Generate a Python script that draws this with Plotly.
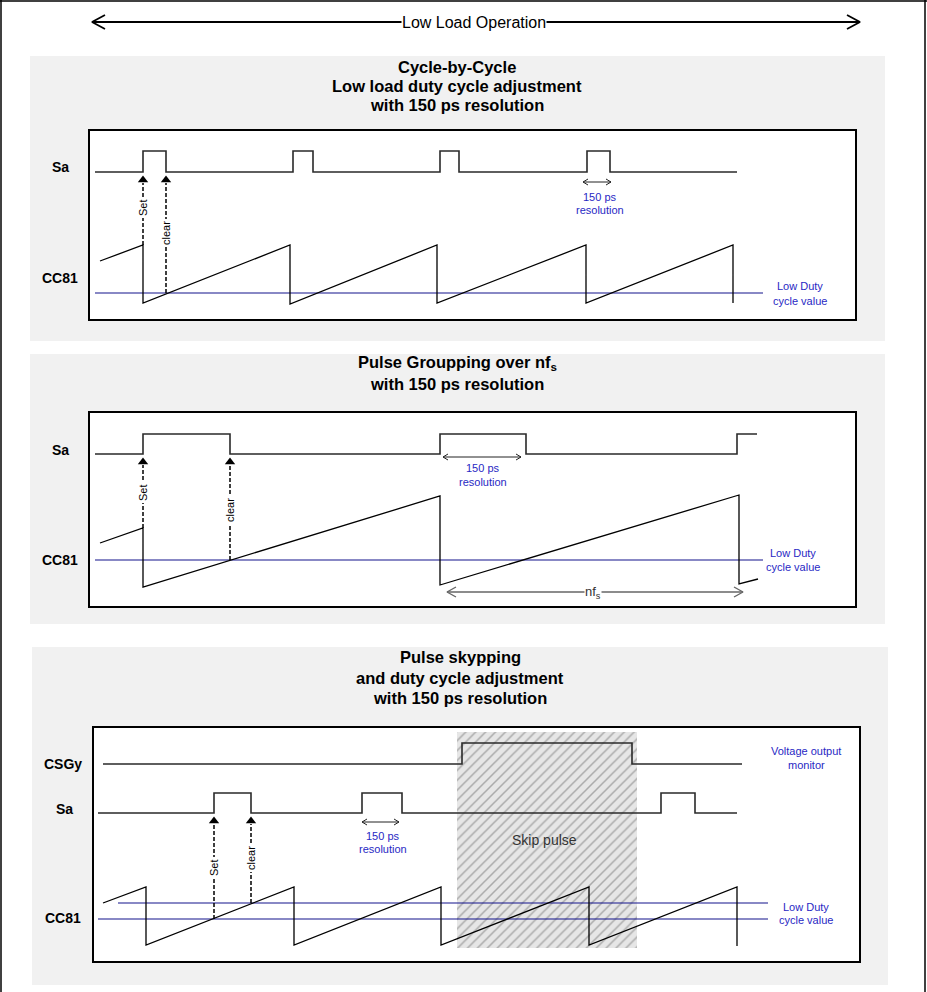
import plotly.graph_objects as go

W, H = 927, 992
FONT = "Liberation Sans, Arial, sans-serif"
BLUE_LINE = "#12128c"
BLUE_TEXT = "#2828c4"
WAVE = "#2a2a2a"

# ---------------- Panel 1 : Cycle-by-Cycle ----------------
P1_TITLE = ["Cycle-by-Cycle", "Low load duty cycle adjustment", "with 150 ps resolution"]
P1_TITLE_Y = [67, 86, 105]
P1_SA_SPAN = [95, 737]
P1_SA_RISE = [143, 293, 440, 587]
P1_SA_FALL = [166, 313, 459, 610]
P1_SA_LEVEL = [172, 151]            # low, high
P1_CC_START = [100, 261]
P1_CC_RESET = [143, 290, 437, 586, 733]
P1_CC_PEAK = [245, 245, 245, 245, 245]
P1_CC_BOTTOM = [303, 304, 303, 303, 303]
P1_CC_TAIL = []
P1_LOWDUTY = [293]
P1_LOWDUTY_SPAN = [[95, 763]]
P1_SETCLR_X = [143, 166]
P1_SETCLR_FROM = [245, 293]
P1_SETCLR_LABEL_Y = [208, 233]
P1_RES_ARROW = [583, 611, 182]
P1_RES_TEXT = [600, 197, 210]
P1_LD_TEXT = [800, 286, 301]
P1_LABELS = [("Sa", 60, 167), ("CC81", 60, 278)]

# ---------------- Panel 2 : Pulse grouping ----------------
P2_TITLE = ["Pulse Groupping over nf<sub>s</sub>", "with 150 ps resolution"]
P2_TITLE_Y = [363, 384]
P2_SA_SPAN = [95, 757]
P2_SA_RISE = [143, 440, 737]
P2_SA_FALL = [230, 526, None]
P2_SA_LEVEL = [454, 434]
P2_CC_START = [100, 543]
P2_CC_RESET = [143, 440, 739]
P2_CC_PEAK = [528, 496, 495]
P2_CC_BOTTOM = [587, 585, 584]
P2_CC_TAIL = [758, 579]
P2_LOWDUTY = [560]
P2_LOWDUTY_SPAN = [[95, 763]]
P2_SETCLR_X = [143, 230]
P2_SETCLR_FROM = [528, 560]
P2_SETCLR_LABEL_Y = [493, 510]
P2_RES_ARROW = [443, 521, 457]
P2_RES_TEXT = [483, 468, 482]
P2_LD_TEXT = [793, 553, 567]
P2_NFS_ARROW = [447, 743, 592]
P2_LABELS = [("Sa", 60, 450), ("CC81", 60, 560)]

# ---------------- Panel 3 : Pulse skipping ----------------
P3_TITLE = ["Pulse skypping", "and duty cycle adjustment", "with 150 ps resolution"]
P3_TITLE_Y = [657, 678, 698]
P3_CSG_SPAN = [103, 742]
P3_CSG_RISE = [462]
P3_CSG_FALL = [632]
P3_CSG_LEVEL = [764, 743]
P3_SA_SPAN = [98, 737]
P3_SA_RISE = [214, 362, 661]
P3_SA_FALL = [251, 402, 695]
P3_SA_LEVEL = [813, 793]
P3_CC_START = [103, 903]
P3_CC_RESET = [146, 294, 441, 589, 737]
P3_CC_PEAK = [887, 887, 887, 887, 887]
P3_CC_BOTTOM = [945, 945, 945, 945, 946]
P3_CC_TAIL = []
P3_LOWDUTY = [903, 919]
P3_LOWDUTY_SPAN = [[118, 768], [98, 768]]
P3_SETCLR_X = [214, 251]
P3_SETCLR_FROM = [919, 903]
P3_SETCLR_LABEL_Y = [868, 858]
P3_RES_ARROW = [362, 399, 822]
P3_RES_TEXT = [383, 836, 849]
P3_LD_TEXT = [806, 907, 920]
P3_VOM_TEXT = [806, 751, 765]
P3_SKIP = [457, 637, 732, 948]
P3_LABELS = [("CSGy", 63, 764), ("Sa", 64, 809), ("CC81", 63, 918)]

# panels: gray background [x0,x1,y0,y1] and white box [x0,x1,y0,y1]
PANEL_BG = [[30, 885, 56, 341], [30, 885, 354, 624], [32, 888, 647, 985]]
PANEL_BOX = [[89, 856, 130, 320], [89, 856, 412, 607], [93, 860, 727, 962]]
TITLE_X = [457, 457, 460]

TOP_ARROW = [92, 860, 22]
TOP_TEXT = "Low Load Operation"

fig = go.Figure()
annotations = []
shapes = []


def add_line(xs, ys, color=WAVE, width=1.4, dash=None):
    fig.add_trace(go.Scatter(x=xs, y=ys, mode="lines",
                             line=dict(color=color, width=width, dash=dash),
                             hoverinfo="skip"))


def step_wave(span, rises, falls, level):
    lo, hi = level
    xs, ys = [span[0]], [lo]
    end_high = False
    for r, f in zip(rises, falls):
        xs += [r, r]
        ys += [lo, hi]
        if f is None:
            end_high = True
            break
        xs += [f, f]
        ys += [hi, lo]
    xs.append(span[1])
    ys.append(hi if end_high else lo)
    return xs, ys


def sawtooth(start, resets, peaks, bottoms, tail):
    xs, ys = [start[0]], [start[1]]
    for r, p, b in zip(resets, peaks, bottoms):
        xs += [r, r]
        ys += [p, b]
    if tail:
        xs.append(tail[0])
        ys.append(tail[1])
    return xs, ys


def chevron(tx, ty, direction, length, half, color, width):
    xs = [tx - direction * length, tx, tx - direction * length]
    ys = [ty - half, ty, ty + half]
    add_line(xs, ys, color=color, width=width)


def double_arrow(x0, x1, y, color="#222", width=1.0, length=5, half=3):
    add_line([x0, x1], [y, y], color=color, width=width)
    chevron(x0, y, -1, length, half, color, width)
    chevron(x1, y, 1, length, half, color, width)


def text(x, y, s, size=11, color="black", bold=False, angle=0, bg=None, pad=0, family=FONT):
    if bold:
        s = "<b>" + s + "</b>"
    a = dict(x=x, y=y, xref="x", yref="y", text=s, showarrow=False,
             font=dict(family=family, size=size, color=color),
             xanchor="center", yanchor="middle", textangle=angle)
    if bg:
        a["bgcolor"] = bg
        a["borderpad"] = pad
    annotations.append(a)


# background panels and boxes
for bg, box in zip(PANEL_BG, PANEL_BOX):
    shapes.append(dict(type="rect", xref="x", yref="y", x0=bg[0], x1=bg[1], y0=bg[2], y1=bg[3],
                       fillcolor="#f1f1f1", line=dict(width=0), layer="below"))
    shapes.append(dict(type="rect", xref="x", yref="y", x0=box[0], x1=box[1], y0=box[2], y1=box[3],
                       fillcolor="white", line=dict(color="black", width=2), layer="below"))

# outer frame
shapes.append(dict(type="line", xref="x", yref="y", x0=1, x1=1, y0=0, y1=H, line=dict(color="black", width=1.5)))
shapes.append(dict(type="line", xref="x", yref="y", x0=925, x1=925, y0=0, y1=H, line=dict(color="black", width=1.5)))
shapes.append(dict(type="line", xref="x", yref="y", x0=0, x1=W, y0=1, y1=1, line=dict(color="black", width=1.5)))

# skip pulse hatch
sx0, sx1, sy0, sy1 = P3_SKIP
fig.add_trace(go.Scatter(x=[sx0, sx1, sx1, sx0, sx0], y=[sy0, sy0, sy1, sy1, sy0],
                         mode="lines", fill="toself", line=dict(width=0),
                         fillcolor="#e6e6e6",
                         fillpattern=dict(shape="/", bgcolor="#e6e6e6", fgcolor="#6e6e6e",
                                          size=7, solidity=0.22),
                         hoverinfo="skip"))

# top arrow
tx0, tx1, ty = TOP_ARROW
add_line([tx0, tx1], [ty, ty], color="black", width=1.8)
chevron(tx0, ty, -1, 13, 7, "black", 1.8)
chevron(tx1, ty, 1, 13, 7, "black", 1.8)
text((tx0 + tx1) / 2 - 2, ty, TOP_TEXT, size=16, bg="white")

panels = [
    dict(title=P1_TITLE, title_y=P1_TITLE_Y, labels=P1_LABELS,
         waves=[(P1_SA_SPAN, P1_SA_RISE, P1_SA_FALL, P1_SA_LEVEL)],
         cc=(P1_CC_START, P1_CC_RESET, P1_CC_PEAK, P1_CC_BOTTOM, P1_CC_TAIL),
         lowduty=(P1_LOWDUTY, P1_LOWDUTY_SPAN),
         setclr=(P1_SETCLR_X, P1_SETCLR_FROM, P1_SETCLR_LABEL_Y, P1_SA_LEVEL[0]),
         res=(P1_RES_ARROW, P1_RES_TEXT), ld=P1_LD_TEXT),
    dict(title=P2_TITLE, title_y=P2_TITLE_Y, labels=P2_LABELS,
         waves=[(P2_SA_SPAN, P2_SA_RISE, P2_SA_FALL, P2_SA_LEVEL)],
         cc=(P2_CC_START, P2_CC_RESET, P2_CC_PEAK, P2_CC_BOTTOM, P2_CC_TAIL),
         lowduty=(P2_LOWDUTY, P2_LOWDUTY_SPAN),
         setclr=(P2_SETCLR_X, P2_SETCLR_FROM, P2_SETCLR_LABEL_Y, P2_SA_LEVEL[0]),
         res=(P2_RES_ARROW, P2_RES_TEXT), ld=P2_LD_TEXT),
    dict(title=P3_TITLE, title_y=P3_TITLE_Y, labels=P3_LABELS,
         waves=[(P3_CSG_SPAN, P3_CSG_RISE, P3_CSG_FALL, P3_CSG_LEVEL),
                (P3_SA_SPAN, P3_SA_RISE, P3_SA_FALL, P3_SA_LEVEL)],
         cc=(P3_CC_START, P3_CC_RESET, P3_CC_PEAK, P3_CC_BOTTOM, P3_CC_TAIL),
         lowduty=(P3_LOWDUTY, P3_LOWDUTY_SPAN),
         setclr=(P3_SETCLR_X, P3_SETCLR_FROM, P3_SETCLR_LABEL_Y, P3_SA_LEVEL[0]),
         res=(P3_RES_ARROW, P3_RES_TEXT), ld=P3_LD_TEXT),
]

for i, p in enumerate(panels):
    for line_txt, yy in zip(p["title"], p["title_y"]):
        text(TITLE_X[i], yy, line_txt, size=16.5, bold=True)
    for lab, lx, ly in p["labels"]:
        text(lx, ly, lab, size=14, bold=True)
    # low duty lines
    for yy, span in zip(*p["lowduty"]):
        add_line(span, [yy, yy], color=BLUE_LINE, width=1.2)
    # digital waveforms
    for span, rises, falls, level in p["waves"]:
        xs, ys = step_wave(span, rises, falls, level)
        add_line(xs, ys, color=WAVE, width=1.6)
    # sawtooth
    xs, ys = sawtooth(*p["cc"])
    add_line(xs, ys, color="black", width=1.3)
    # set / clear arrows
    sxs, froms, laby, lo = p["setclr"]
    for sx, fy, lyy, nm in zip(sxs, froms, laby, ["Set", "clear"]):
        tip = lo + 3
        add_line([sx, sx], [fy, tip + 8], color="black", width=1.5, dash="4px,2px")
        fig.add_trace(go.Scatter(x=[sx], y=[tip + 5], mode="markers",
                                 marker=dict(symbol="triangle-up", size=9, color="black"),
                                 hoverinfo="skip"))
        text(sx - 0.5, lyy, nm, size=11, angle=-90, bg="white", pad=1.5)
    # resolution
    (ax0, ax1, ay), (rx, ry1, ry2) = p["res"]
    double_arrow(ax0, ax1, ay)
    text(rx, ry1, "150 ps", size=11, color=BLUE_TEXT)
    text(rx, ry2, "resolution", size=11, color=BLUE_TEXT)
    lx, ly1, ly2 = p["ld"]
    text(lx, ly1, "Low Duty", size=11, color=BLUE_TEXT)
    text(lx, ly2, "cycle value", size=11, color=BLUE_TEXT)

# nf_s arrow
nx0, nx1, ny = P2_NFS_ARROW
double_arrow(nx0, nx1, ny, color="#666666", width=1.4, length=9, half=5)
text((nx0 + nx1) / 2 - 2, ny, "nf<sub>s</sub>", size=13, color="#333", bg="white")

# voltage output monitor & skip pulse
vx, vy1, vy2 = P3_VOM_TEXT
text(vx, vy1, "Voltage output", size=11, color=BLUE_TEXT)
text(vx, vy2, "monitor", size=11, color=BLUE_TEXT)
text((sx0 + sx1) / 2 - 3, 840, "Skip pulse", size=14, color="#333")

fig.update_layout(
    width=W, height=H, margin=dict(l=0, r=0, t=0, b=0),
    paper_bgcolor="white", plot_bgcolor="white", showlegend=False,
    hovermode=False,
    xaxis=dict(range=[0, W], visible=False, fixedrange=True),
    yaxis=dict(range=[H, 0], visible=False, fixedrange=True),
    shapes=shapes, annotations=annotations,
)

fig.write_html("out.html", config={"displayModeBar": False},
               post_script="document.body.style.margin='0';document.body.style.overflow='hidden';")
